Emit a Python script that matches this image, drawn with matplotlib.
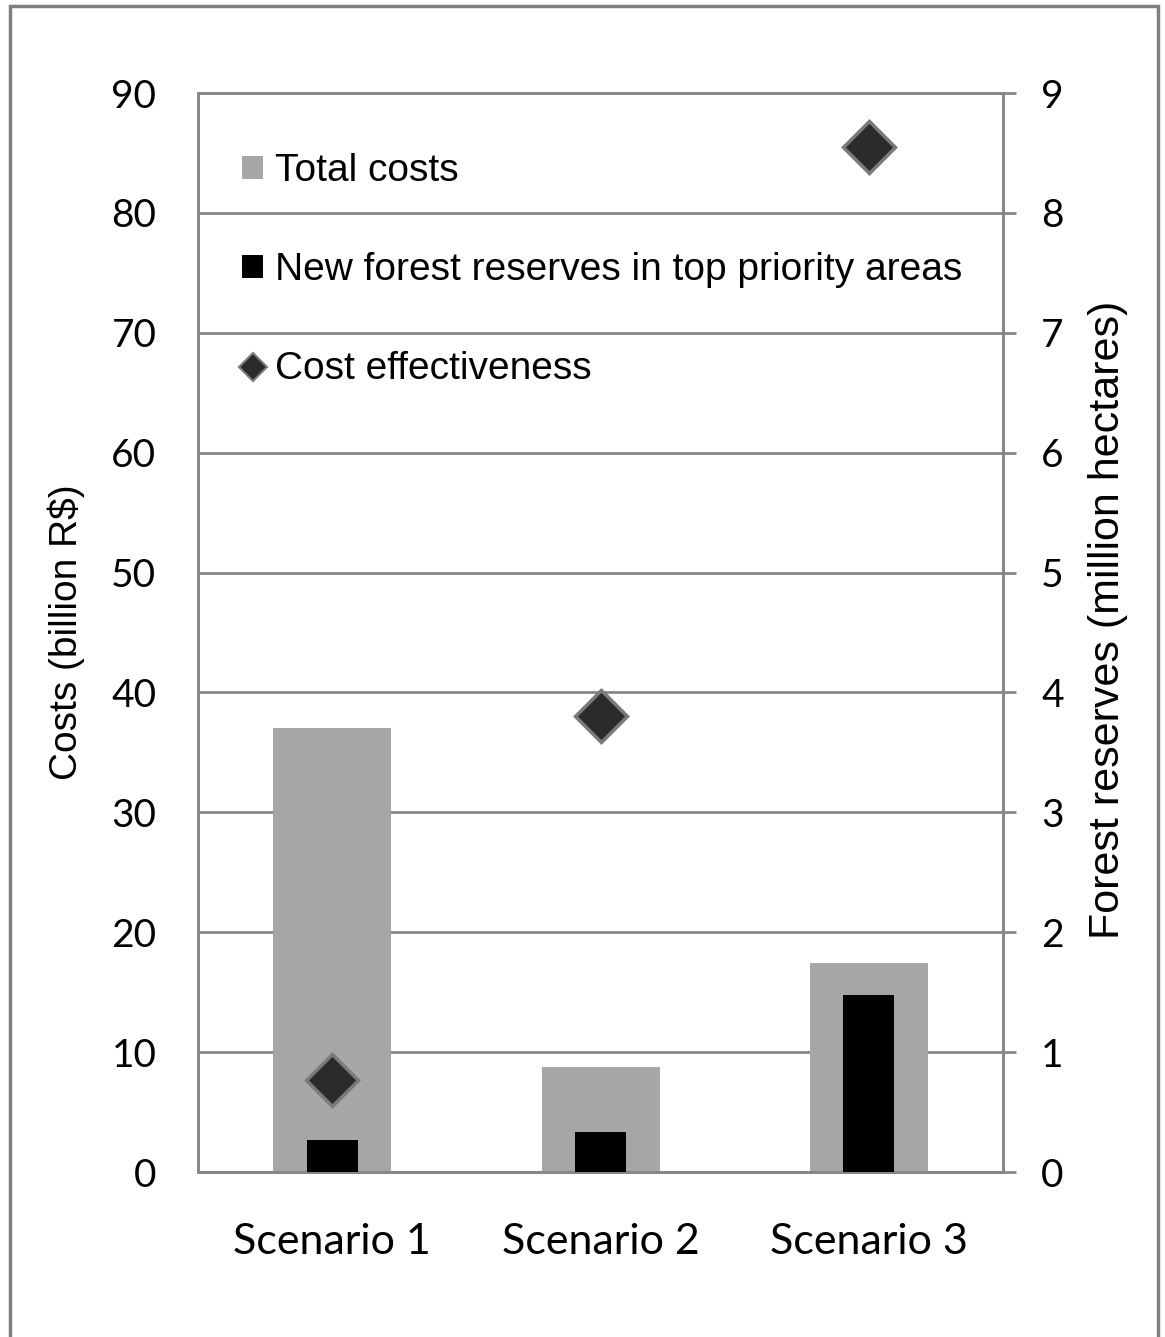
import numpy as np
import matplotlib
matplotlib.use("Agg")
import matplotlib.pyplot as plt
from matplotlib.patches import Patch, Rectangle
from matplotlib.lines import Line2D

scenarios = ["Scenario 1", "Scenario 2", "Scenario 3"]
total_costs = [37.0, 8.8, 17.4]          # billion R$
new_reserves = [0.27, 0.33, 1.48]        # million hectares
cost_effectiveness = [7.7, 38.0, 85.5]   # drawn on the cost scale
cost_ticks = np.arange(0, 91, 10)
reserve_ticks = np.arange(0, 10, 1)

GRID = "#878787"
BAR_GRAY = "#a6a6a6"
DIAMOND = "#2b2b2b"
TICK_FONT = "Lato"
LABEL_FONT = "Liberation Sans"

fig = plt.figure(figsize=(11.65, 13.37), dpi=100)
ax = fig.add_axes([0.170, 0.1234, 0.691, 0.807])
ax2 = ax.twinx()

x = np.arange(len(scenarios))

# left axis: gridlines and total costs
ax.bar(x, total_costs, width=0.44, color=BAR_GRAY, zorder=2)
ax.set_xlim(-0.5, 2.5)
ax.set_ylim(0, 90)
ax.set_yticks(cost_ticks)
ax.yaxis.grid(True, color=GRID, lw=2)
ax.set_axisbelow(True)
ax.set_xticks(x)
ax.set_xticklabels(scenarios, fontsize=31, family=TICK_FONT)
ax.tick_params(axis="x", length=0, pad=37)
ax.tick_params(axis="y", length=0, pad=30, labelsize=28)
for lab in ax.get_yticklabels():
    lab.set_family(TICK_FONT)
ax.set_ylabel("Costs (billion R$)", fontsize=28, family=LABEL_FONT)
ax.yaxis.set_label_coords(-0.140, 0.5)

# right axis: new reserves and cost effectiveness on top
ax2.bar(x, new_reserves, width=0.19, color="black", zorder=3)
ax2.plot(x, cost_effectiveness, linestyle="none", marker="D", ms=29,
         mfc="#c8c8c8", mec="none", alpha=0.5, transform=ax.transData, zorder=4)
ax2.plot(x, cost_effectiveness, linestyle="none", marker="D", ms=26,
         mfc=DIAMOND, mec="#7a7a7a", mew=2.5, transform=ax.transData, zorder=5)
ax2.set_ylim(0, 9)
ax2.set_yticks(reserve_ticks)
ax2.tick_params(axis="y", length=9.5, width=2, color=GRID, pad=18, labelsize=28)
for lab in ax2.get_yticklabels():
    lab.set_family(TICK_FONT)
ax2.set_ylabel("Forest reserves (million hectares)", fontsize=31, family=LABEL_FONT)
ax2.yaxis.set_label_coords(1.106, 0.512)

for a in (ax, ax2):
    for sp in a.spines.values():
        sp.set_color(GRID)
        sp.set_linewidth(2)

handles = [
    Patch(facecolor=BAR_GRAY, edgecolor="none"),
    Patch(facecolor="black", edgecolor="none"),
    Line2D([], [], linestyle="none", marker="D", ms=14, mfc=DIAMOND,
           mec="#7a7a7a", mew=1.5),
]
labels = ["Total costs", "New forest reserves in top priority areas",
          "Cost effectiveness"]
leg = ax2.legend(handles, labels, loc="upper left", bbox_to_anchor=(0.055, 0.944),
                 frameon=False, borderpad=0, borderaxespad=0,
                 handlelength=0.53, handleheight=0.53, handletextpad=0.3,
                 labelspacing=1.62, prop={"family": LABEL_FONT, "size": 28})

# outer frame
fig.patches.append(Rectangle((10 / 1165, -0.02), 1148 / 1165, 1.0155,
                             transform=fig.transFigure, fill=False,
                             edgecolor="#808080", lw=2.5))

fig.savefig("out.png", dpi=100)
